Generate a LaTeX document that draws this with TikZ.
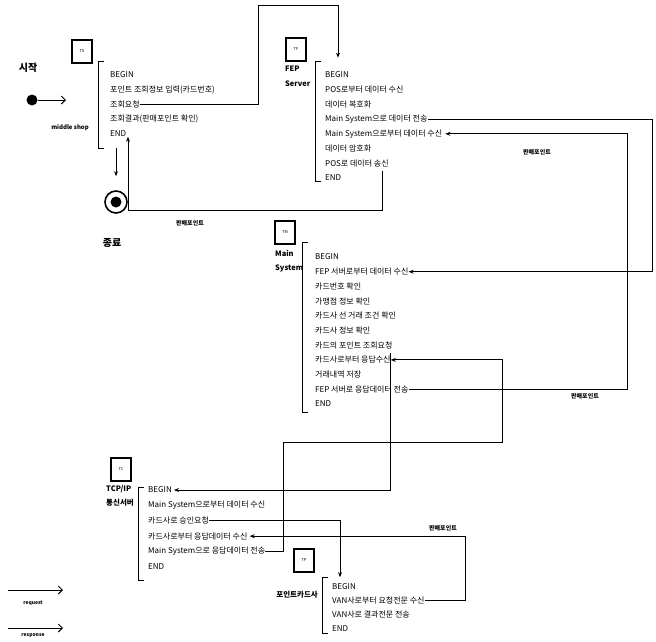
\documentclass[tikz,border=0pt]{standalone}
\usepackage{fontspec}
\newfontfamily\krfont{Noto Sans CJK KR}
\usetikzlibrary{positioning,calc,arrows.meta}

\tikzset{
    stepline/.style={                 % one line of a process listing
        inner sep=0pt,
        minimum height=#1,
        anchor=west,
        font=\krfont\fontsize{8}{9}\selectfont
    },
    stepline/.default=14.3pt,
    nextline/.style={below=0pt of #1.south west, anchor=north west},
    unitbox/.style={                  % small square with the unit code
        draw, line width=2pt,
        minimum width=20pt, minimum height=23pt, inner sep=0pt,
        font=\krfont\fontsize{4}{4}\selectfont
    },
    unitname/.style={
        inner sep=0pt, align=left,
        font=\krfont\bfseries\fontsize{7.5}{14.5}\selectfont
    },
    bracket/.style={line width=0.8pt},
    msg/.style={-{Stealth[length=5pt,width=4pt]}, line width=1pt},
    note/.style={inner sep=0pt, font=\krfont\bfseries\fontsize{6}{7}\selectfont},
    bignote/.style={inner sep=0pt, font=\krfont\bfseries\fontsize{10}{11}\selectfont}
}

\begin{document}
\begin{tikzpicture}[x=1pt,y=-1pt]
\useasboundingbox (0,0) rectangle (656,641);

% start / stop
\node[bignote] (startlbl) at (28,68) {시작};
\node[circle, fill, minimum size=11pt, inner sep=0pt] (start) at (32,100) {};
\coordinate (starttip) at (66,100);
\draw[-{Straight Barb[length=4pt]}, line width=1pt] (start) -- (starttip);
\node[circle, draw, line width=1.6pt, minimum size=22pt, inner sep=0pt] (stop) at (116,202) {};
\node[circle, fill, minimum size=11pt, inner sep=0pt] (stopdot) at (stop) {};
\node[bignote] (stoplbl) at (112,243) {종료};

% TS : middle shop
\node[unitbox] (ts) at (82,51) {TS};
\node[note] (tsname) at (70,128) {middle shop};
\node[stepline] (ts1) at (110,75) {BEGIN};
\node[stepline, nextline=ts1] (ts2) {포인트 조회정보 입력(카드번호)};
\node[stepline, nextline=ts2] (ts3) {조회요청};
\node[stepline, nextline=ts3] (ts4) {조회결과(판매포인트 확인)};
\node[stepline, nextline=ts4] (ts5) {END};
\draw[bracket] ([xshift=-6pt,yshift=6pt]ts1.north west) -- ++(-6pt,0) |- ([xshift=-6pt,yshift=-7pt]ts5.south west);

% TF : FEP server
\node[unitbox] (tf) at (296,49) {TF};
\node[unitname, anchor=north west] (tfname) at (285,66) {FEP\\Server};
\node[stepline] (fep1) at (325,75) {BEGIN};
\node[stepline, nextline=fep1] (fep2) {POS로부터 데이터 수신};
\node[stepline, nextline=fep2] (fep3) {데이터 복호화};
\node[stepline, nextline=fep3] (fep4) {Main System으로 데이터 전송};
\node[stepline, nextline=fep4] (fep5) {Main System으로부터 데이터 수신};
\node[stepline, nextline=fep5] (fep6) {데이터 암호화};
\node[stepline, nextline=fep6] (fep7) {POS로 데이터 송신};
\node[stepline, nextline=fep7] (fep8) {END};
\draw[bracket] ([xshift=-4pt,yshift=6pt]fep1.north west) -- ++(-6pt,0) |- ([xshift=-4pt,yshift=4pt]fep8.south west);

% TM : main system
\node[unitbox] (tm) at (285,232) {TM};
\node[unitname, anchor=north west] (tmname) at (275,250) {Main\\System};
\node[stepline] (main1) at (315,257) {BEGIN};
\node[stepline, nextline=main1] (main2) {FEP 서버로부터 데이터 수신};
\node[stepline, nextline=main2] (main3) {카드번호 확인};
\node[stepline, nextline=main3] (main4) {가맹점 정보 확인};
\node[stepline, nextline=main4] (main5) {카드사 선 거래 조건 확인};
\node[stepline, nextline=main5] (main6) {카드사 정보 확인};
\node[stepline, nextline=main6] (main7) {카드의 포인트 조회요청};
\node[stepline, nextline=main7] (main8) {카드사로부터 응답수신};
\node[stepline, nextline=main8] (main9) {거래내역 저장};
\node[stepline, nextline=main9] (main10) {FEP 서버로 응답데이터 전송};
\node[stepline, nextline=main10] (main11) {END};
\draw[bracket] ([xshift=-7pt,yshift=7pt]main1.north west) -- ++(-6pt,0) |- ([xshift=-7pt,yshift=-1pt]main11.south west);

% TC : TCP/IP server
\node[unitbox] (tc) at (121,469) {TC};
\node[unitname, anchor=north west] (tcname) at (106,485) {TCP/IP\\통신서버};
\node[stepline=15pt] (tcp1) at (148,490) {BEGIN};
\node[stepline=15pt, nextline=tcp1] (tcp2) {Main System으로부터 데이터 수신};
\node[stepline=15pt, nextline=tcp2] (tcp3) {카드사로 승인요청};
\node[stepline=15pt, nextline=tcp3] (tcp4) {카드사로부터 응답데이터 수신};
\node[stepline=15pt, nextline=tcp4] (tcp5) {Main System으로 응답데이터 전송};
\node[stepline=15pt, nextline=tcp5] (tcp6) {END};
\draw[bracket] ([xshift=-4pt,yshift=-5.5pt]tcp1.north west) -- ++(-6pt,0) |- ([xshift=-4pt,yshift=-5.5pt]tcp6.south west);

% TP : point card company
\node[unitbox] (tp) at (304,560) {TP};
\node[unitname, anchor=east] (tpname) at (318,595) {포인트카드사};
\node[stepline=13.3pt] (tp1) at (332,587) {BEGIN};
\node[stepline=13.3pt, nextline=tp1] (tp2) {VAN사로부터 요청전문 수신};
\node[stepline=13.3pt, nextline=tp2] (tp3) {VAN사로 결과전문 전송};
\node[stepline=13.3pt, nextline=tp3] (tp4) {END};
\draw[bracket] ([xshift=-4pt,yshift=3pt]tp1.north west) -- ++(-6pt,0) |- ([xshift=-4pt,yshift=1.5pt]tp4.south west);

% rails of the message lines
\coordinate (railA) at (258,5);
\coordinate (railB) at (652,0);
\coordinate (railC) at (627,0);
\coordinate (railD) at (128,210);
\coordinate (railE) at (283,442);
\coordinate (railF) at (502,442);
\coordinate (railG) at (465,0);

% messages
\draw[msg] ([yshift=42pt]stop.north) -- ([yshift=14pt]stop.north);
\draw[msg] (ts3.east) -| (railA) -| ([xshift=13pt,yshift=10pt]fep1.north west);
\draw[msg] ([xshift=-6pt]fep7.south east) |- (railD) -- ([yshift=-3pt]railD |- ts5.east);
\draw[msg] (fep4.east) -| (main2.east -| railB) -- (main2.east);
\draw[msg] (main10.east) -| (fep5.east -| railC) -- ([xshift=3pt]fep5.east);
\draw[msg] (main8.east |- main7.south) |- ([xshift=2pt]tcp1.east);
\draw[msg] (tcp5.east) -| (railE) -- (railF) |- (main8.east);
\draw[msg] (tcp3.east) -| ([xshift=8pt,yshift=3pt]tp1.north west);
\draw[msg] (tp2.east) -| (tcp4.east -| railG) -- ([xshift=2pt]tcp4.east);

% labels on the lines
\node[note] (pt1) at (190,223) {판매포인트};
\node[note] (pt2) at (537,152) {판매포인트};
\node[note] (pt3) at (585,396) {판매포인트};
\node[note] (pt4) at (443,528) {판매포인트};

% legend
\coordinate (lg1) at (8,590);
\coordinate (lg2) at (8,628);
\draw[-{Straight Barb[length=4pt]}, line width=1pt] (lg1) -- ++(55,0);
\node[note, font=\krfont\bfseries\fontsize{5}{6}\selectfont] (lgreq) at (33,603) {request};
\draw[-{Straight Barb[length=4pt]}, line width=1pt] (lg2) -- ++(55,0);
\node[note, font=\krfont\bfseries\fontsize{5}{6}\selectfont] (lgres) at (33,636) {response};
\end{tikzpicture}
\end{document}
